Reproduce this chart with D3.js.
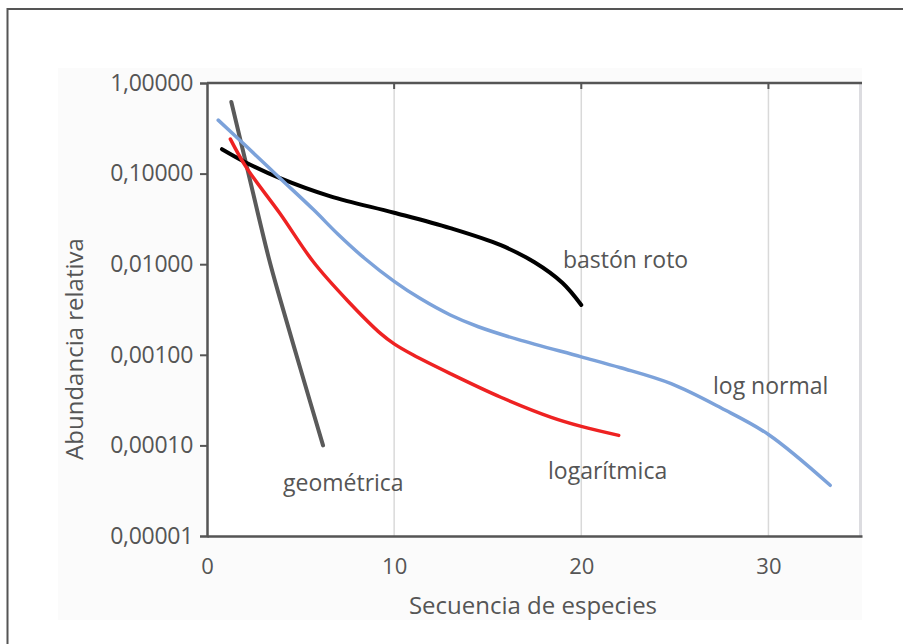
<!DOCTYPE html>
<html>
<head>
<meta charset="utf-8">
<script src="https://cdn.jsdelivr.net/npm/d3@7"></script>
<style>
  body { margin: 0; background: #fff; }
  text { font-family: "Open Sans", sans-serif; fill: #555; }
</style>
</head>
<body>
<div id="chart"></div>
<script>
// Series (x = species rank, y = relative abundance)
var geomX = [1.3, 2.1, 3.3, 3.9, 5.0, 6.2];
var geomY = [0.617, 0.126, 0.0117, 0.00417, 0.000692, 0.0001];

var bastonX = [0.8, 2.1, 3.9, 6.6, 10.0, 13.0, 15.7, 17.5, 19.0, 20.0];
var bastonY = [0.186, 0.132, 0.089, 0.056, 0.037, 0.025, 0.0162, 0.0105, 0.0062, 0.00355];

var lognormX = [0.6, 2.1, 3.9, 5.7, 7.0, 8.4, 10.0, 11.4, 13.0, 14.5, 16.6, 20.0, 22.1, 24.8, 27.5, 30.0, 33.3];
var lognormY = [0.389, 0.2, 0.089, 0.0398, 0.0214, 0.0117, 0.00646, 0.00417, 0.00275, 0.00204, 0.00148, 0.00095, 0.00072, 0.00048, 0.000257, 0.000132, 0.0000363];

var logX = [1.25, 2.1, 3.9, 5.7, 7.5, 9.3, 10.0, 11.0, 13.0, 15.7, 18.4, 20.0, 22.0];
var logY = [0.24, 0.117, 0.0363, 0.0105, 0.00398, 0.0017, 0.00132, 0.001, 0.00062, 0.00034, 0.000204, 0.000162, 0.000129];

var xTicks = [0, 10, 20, 30];
var yTicks = [1, 0.1, 0.01, 0.001, 0.0001, 0.00001];
var yTickLabels = ["1,00000", "0,10000", "0,01000", "0,00100", "0,00010", "0,00001"];

var series = [
  {name: "geométrica", xs: geomX, ys: geomY, color: "#5a5a5a", width: 4, lx: 283, ly: 485},
  {name: "bastón roto", xs: bastonX, ys: bastonY, color: "#000", width: 4, lx: 563, ly: 262},
  {name: "log normal", xs: lognormX, ys: lognormY, color: "#7ca2da", width: 3.5, lx: 713, ly: 388},
  {name: "logarítmica", xs: logX, ys: logY, color: "#ee2222", width: 3.5, lx: 548, ly: 473}
];

var W = 903, H = 644;
var plotL = 207, plotR = 862, plotT = 83, plotB = 536;

var svg = d3.select("#chart").append("svg")
  .attr("width", W)
  .attr("height", H);

// outer frame
svg.append("rect")
  .attr("x", 7.5).attr("y", 9)
  .attr("width", 900).attr("height", 700)
  .attr("fill", "none")
  .attr("stroke", "#555")
  .attr("stroke-width", 2);

// faint panel
svg.append("rect")
  .attr("x", 58).attr("y", 68)
  .attr("width", plotR - 58).attr("height", 620 - 68)
  .attr("fill", "#fbfbfb");

svg.append("rect")
  .attr("x", plotL).attr("y", plotT)
  .attr("width", plotR - plotL).attr("height", plotB - plotT)
  .attr("fill", "#fff");

var x = d3.scaleLinear().domain([0, 35]).range([plotL, plotR]);
var y = d3.scaleLog().domain([0.00001, 1]).range([plotB, plotT]);

// vertical grid
svg.append("g")
  .selectAll("line")
  .data(xTicks.slice(1)).enter()
  .append("line")
  .attr("x1", d => x(d)).attr("x2", d => x(d))
  .attr("y1", plotT).attr("y2", plotB)
  .attr("stroke", "#d9d9d9")
  .attr("stroke-width", 1.5);

// right border (light)
svg.append("line")
  .attr("x1", plotR - 1.5).attr("x2", plotR - 1.5)
  .attr("y1", plotT).attr("y2", plotB)
  .attr("stroke", "#dcdce0")
  .attr("stroke-width", 3);

// top border + small ticks
svg.append("line")
  .attr("x1", plotL).attr("x2", plotR)
  .attr("y1", plotT).attr("y2", plotT)
  .attr("stroke", "#555").attr("stroke-width", 2.5);
svg.append("g")
  .selectAll("line")
  .data(xTicks.slice(1)).enter()
  .append("line")
  .attr("x1", d => x(d)).attr("x2", d => x(d))
  .attr("y1", plotT).attr("y2", plotT + 6)
  .attr("stroke", "#555").attr("stroke-width", 2);

// axes
var xAxis = d3.axisBottom(x).tickValues(xTicks).tickSize(0).tickPadding(22).tickFormat(d3.format("d"));
var yAxis = d3.axisLeft(y).tickValues(yTicks).tickSize(7).tickPadding(7)
  .tickFormat((d, i) => yTickLabels[i]);

var gx = svg.append("g")
  .attr("transform", `translate(0,${plotB})`)
  .call(xAxis);
gx.select(".domain").attr("stroke", "#555").attr("stroke-width", 2.5);
gx.selectAll("text").attr("font-size", 22).attr("fill", "#555");

var gy = svg.append("g")
  .attr("transform", `translate(${plotL},0)`)
  .call(yAxis);
gy.select(".domain").attr("stroke", "#555").attr("stroke-width", 2.5);
gy.selectAll(".tick line").attr("stroke", "#555").attr("stroke-width", 2);
gy.selectAll(".tick")
  .filter(d => d === 1 || d === 0.00001)
  .select("line").remove();
gy.selectAll("text").attr("font-size", 23).attr("fill", "#555").attr("letter-spacing", -0.3);

// axis titles
svg.append("text")
  .attr("x", 533).attr("y", 608)
  .attr("text-anchor", "middle")
  .attr("dominant-baseline", "middle")
  .attr("font-size", 24)
  .text("Secuencia de especies");

svg.append("text")
  .attr("transform", "translate(77,349) rotate(-90)")
  .attr("text-anchor", "middle")
  .attr("dominant-baseline", "middle")
  .attr("font-size", 24)
  .text("Abundancia relativa");

// curves
var line = d3.line()
  .curve(d3.curveCatmullRom.alpha(0.5))
  .x(d => x(d[0]))
  .y(d => y(d[1]));

svg.append("g")
  .selectAll("path")
  .data(series).enter()
  .append("path")
  .attr("d", s => line(d3.zip(s.xs, s.ys)))
  .attr("fill", "none")
  .attr("stroke", s => s.color)
  .attr("stroke-width", s => s.width)
  .attr("stroke-linecap", "round");

svg.append("g")
  .selectAll("text")
  .data(series).enter()
  .append("text")
  .attr("x", s => s.lx).attr("y", s => s.ly)
  .attr("dominant-baseline", "middle")
  .attr("font-size", 23)
  .text(s => s.name);
</script>
</body>
</html>
